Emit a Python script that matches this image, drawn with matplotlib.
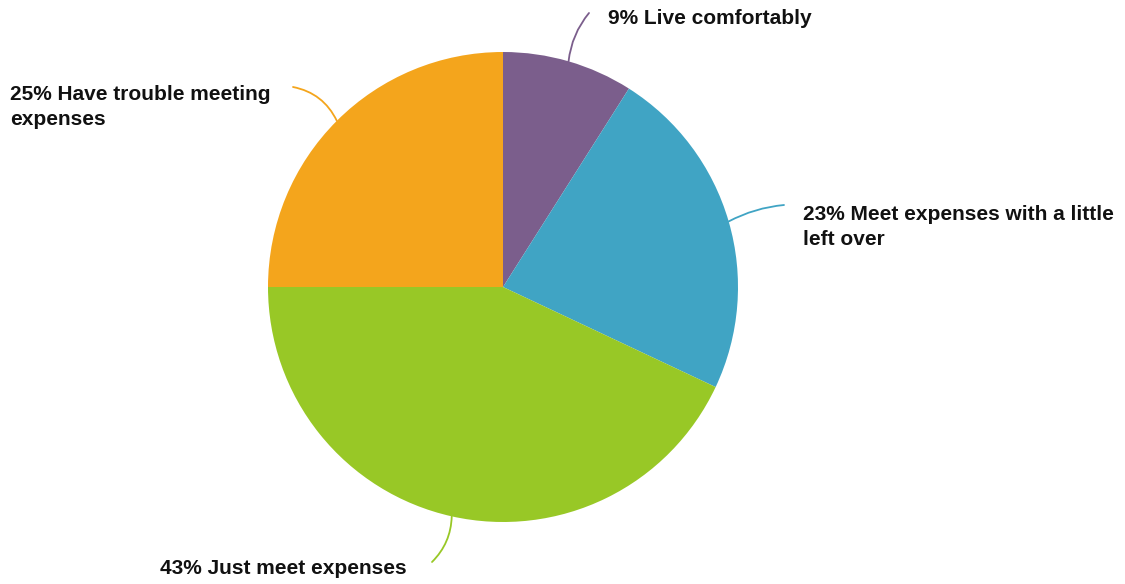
import numpy as np
import matplotlib.pyplot as plt

plt.rcParams['font.family'] = ['Liberation Sans', 'DejaVu Sans']

labels = ['9% Live comfortably', '23% Meet expenses with a little\nleft over',
          '43% Just meet expenses', '25% Have trouble meeting\nexpenses']
values = [9, 23, 43, 25]
colors = ['#7b5e8c', '#40a4c4', '#98c826', '#f4a51c']

W, H = 1125, 584
cx, cy, r = 503, H - 287, 235

# leader line end points and text anchors (pixel coords, y from bottom)
ends = [(589, H - 13), (784, H - 205), (432, H - 562), (293, H - 87)]
texts = [(608, H - 18, 'left', 'center'), (803, H - 227, 'left', 'center'),
         (160, H - 568, 'left', 'center'), (10, H - 107, 'left', 'center')]
rads = [-0.15, -0.1, -0.2, 0.25]

fig = plt.figure(figsize=(W / 100, H / 100), dpi=100)
ax = fig.add_axes([0, 0, 1, 1])

ax.pie(values, colors=colors, startangle=90, counterclock=False,
       center=(cx, cy), radius=r, wedgeprops=dict(linewidth=0))
ax.set_xlim(0, W)
ax.set_ylim(0, H)
ax.set_aspect('equal')
ax.axis('off')

cum = np.cumsum([0] + values[:-1])
for i, v in enumerate(values):
    ang = np.deg2rad((cum[i] + v / 2) / 100 * 360)
    sx = cx + r * np.sin(ang)
    sy = cy + r * np.cos(ang)
    ax.annotate('', xy=ends[i], xytext=(sx, sy),
                arrowprops=dict(arrowstyle='-', color=colors[i], lw=1.3,
                                connectionstyle=f'arc3,rad={rads[i]}',
                                shrinkA=0, shrinkB=0))
    tx, ty, ha, va = texts[i]
    ax.text(tx, ty, labels[i], ha=ha, va=va, fontsize=15, fontweight='bold',
            color='#111111', linespacing=1.42)

fig.savefig('out.png', dpi=100)
